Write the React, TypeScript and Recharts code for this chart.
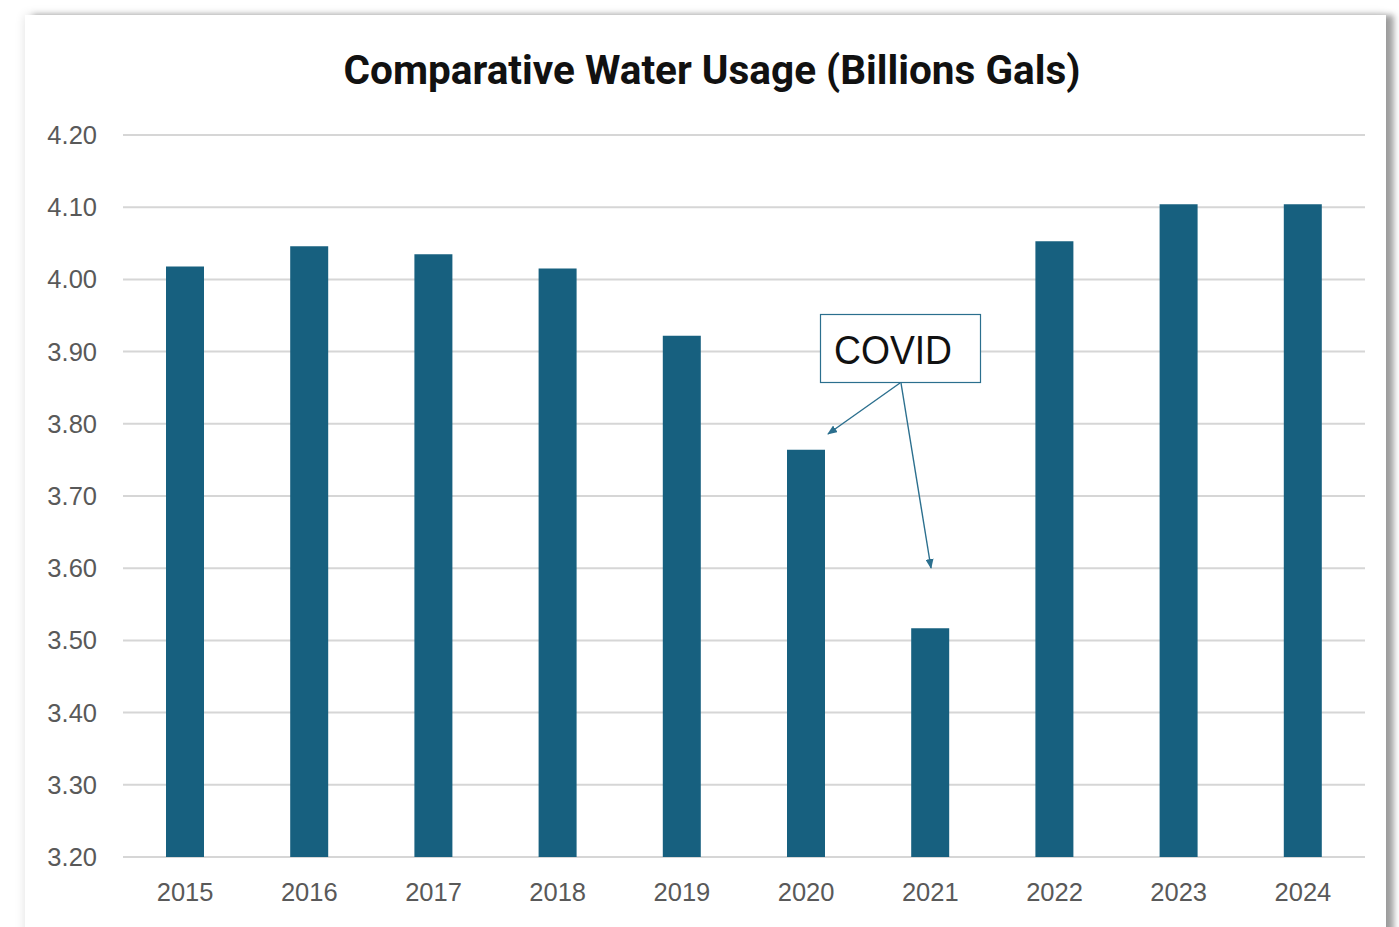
import React from 'react';
import { BarChart, Bar, XAxis, YAxis, CartesianGrid } from 'recharts';

const years = ['2015', '2016', '2017', '2018', '2019', '2020', '2021', '2022', '2023', '2024'];
const usage = [4.018, 4.046, 4.035, 4.015, 3.922, 3.764, 3.517, 4.053, 4.104, 4.104];
const yTicks = [3.2, 3.3, 3.4, 3.5, 3.6, 3.7, 3.8, 3.9, 4.0, 4.1, 4.2];

const data = years.map((year, i) => ({ year, usage: usage[i] }));

const BAR_COLOR = '#17607f';
const ARROW_COLOR = '#2b6f8e';
const tickStyle = { fill: '#595959', fontSize: 25.5, fontFamily: '"Liberation Sans", Arial, sans-serif' };

const App: React.FC = () => {
  return (
    <div style={{ position: 'absolute', left: 0, top: 0, width: 1399, height: 927, overflow: 'hidden', background: '#fff' }}>
      {/* card with shadow */}
      <div
        style={{
          position: 'absolute',
          left: 25,
          top: 15,
          width: 1361,
          height: 940,
          background: '#fff',
          boxShadow: '0 0 10px rgba(0,0,0,0.12), 8px 0 6px rgba(0,0,0,0.35)',
        }}
      />
      <div
        style={{
          position: 'absolute',
          left: 0,
          width: 1424,
          top: 44,
          textAlign: 'center',
          fontFamily: 'Roboto, "Open Sans", sans-serif',
          fontWeight: 700,
          fontSize: 40.5,
          color: '#111',
          lineHeight: '52px',
        }}
      >
        Comparative Water Usage (Billions Gals)
      </div>
      <div style={{ position: 'absolute', left: 0, top: 0 }}>
        <BarChart width={1399} height={927} data={data} margin={{ top: 135, right: 34, bottom: 30, left: 43 }}>
          <CartesianGrid vertical={false} stroke="#d6d6d6" strokeWidth={2} />
          <XAxis
            dataKey="year"
            axisLine={false}
            tickLine={false}
            tickSize={0}
            tickMargin={26}
            height={40}
            tick={tickStyle}
          />
          <YAxis
            domain={[3.2, 4.2]}
            ticks={yTicks}
            tickFormatter={(v: number) => v.toFixed(2)}
            axisLine={false}
            tickLine={false}
            tickSize={0}
            tickMargin={26}
            width={80}
            tick={tickStyle}
          />
          <Bar dataKey="usage" fill={BAR_COLOR} barSize={38} isAnimationActive={false} />
        </BarChart>
      </div>
      {/* COVID annotation */}
      <svg width={1399} height={927} style={{ position: 'absolute', left: 0, top: 0, pointerEvents: 'none' }}>
        <defs>
          <marker id="arrowHead" markerWidth="10" markerHeight="8" refX="9" refY="4" orient="auto" markerUnits="userSpaceOnUse">
            <path d="M0,0 L10,4 L0,8 z" fill={ARROW_COLOR} />
          </marker>
        </defs>
        <line x1={900} y1={383} x2={828} y2={434} stroke={ARROW_COLOR} strokeWidth={1.4} markerEnd="url(#arrowHead)" />
        <line x1={901} y1={383} x2={931} y2={568} stroke={ARROW_COLOR} strokeWidth={1.4} markerEnd="url(#arrowHead)" />
        <rect x={820.5} y={314.5} width={160} height={68} fill="#fff" stroke={ARROW_COLOR} strokeWidth={1.2} />
        <text
          x={893}
          y={364}
          textAnchor="middle"
          fontFamily='"Liberation Sans", Arial, sans-serif'
          fontSize={40}
          fill="#111"
          textLength={118}
          lengthAdjust="spacingAndGlyphs"
        >
          COVID
        </text>
      </svg>
    </div>
  );
};

export default App;
